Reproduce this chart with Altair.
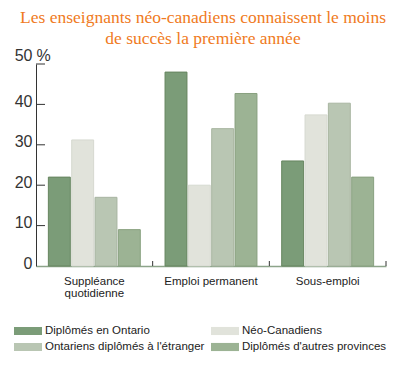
import altair as alt
import pandas as pd

categories = ["Suppléance|quotidienne", "Emploi permanent", "Sous-emploi"]
series = [
    "Diplômés en Ontario",
    "Néo-Canadiens",
    "Ontariens diplômés à l'étranger",
    "Diplômés d'autres provinces",
]
v_ontario = [22, 48, 26]
v_neo = [31.2, 20, 37.4]
v_etranger = [17, 34, 40.3]
v_autres = [9, 42.7, 22]
y_ticks = [10, 20, 30, 40, 50]

fills = ["#7b9c78", "#e1e3db", "#b9c6b3", "#9cb394"]
strokes = ["#66855f", "#d6d9d0", "#a8b5a1", "#88a07f"]

rows = []
for s, vals in zip(series, [v_ontario, v_neo, v_etranger, v_autres]):
    for c, v in zip(categories, vals):
        rows.append({"cat": c, "serie": s, "val": v})
df = pd.DataFrame(rows)

x_enc = alt.X(
    "cat:N",
    sort=categories,
    scale=alt.Scale(domain=categories, paddingInner=0, paddingOuter=0),
    axis=alt.Axis(
        title=None,
        labelAngle=0,
        labelExpr="split(datum.label, '|')",
        labelFont="Liberation Sans",
        labelFontSize=11.5,
        labelColor="#222",
        labelPadding=9,
        labelBaseline="top",
        labelLineHeight=12.5,
        ticks=False,
        domainColor="#8da48a",
        domainWidth=1.5,
    ),
)

y_axis = alt.Axis(
    values=[0] + y_ticks,
    title="%",
    titleAngle=0,
    titleX=7,
    titleY=-8.5,
    titleAlign="center",
    titleBaseline="middle",
    titleFont="Liberation Sans",
    titleFontSize=16,
    titleFontWeight="normal",
    titleColor="#333",
    labelFont="Liberation Sans",
    labelFontSize=16,
    labelColor="#333",
    labelPadding=4,
    labelOffset={"condition": {"test": "datum.value == 50", "value": -8.5}, "value": -3},
    ticks=False,
    grid=False,
    domainColor="#333",
    domainWidth=1,
)
y_scale = alt.Scale(domain=[0, 50], nice=False)

bars = alt.Chart(df).mark_bar(strokeWidth=1).encode(
    x=x_enc,
    xOffset=alt.XOffset(
        "serie:N", sort=series, scale=alt.Scale(paddingInner=0.06, paddingOuter=0.53)
    ),
    y=alt.Y("val:Q", scale=y_scale, axis=y_axis),
    fill=alt.Fill(
        "serie:N",
        sort=series,
        scale=alt.Scale(domain=series, range=fills),
        legend=alt.Legend(
            title=None,
            orient="none",
            direction="horizontal",
            legendX=-22,
            legendY=260,
            columns=2,
            symbolType="M-1,-0.29H1V0.29H-1Z",
            symbolSize=784,
            symbolStrokeWidth=0,
            symbolOpacity=1,
            clipHeight=14,
            rowPadding=2,
            columnPadding=6,
            labelFont="Liberation Sans",
            labelFontSize=11.5,
            labelColor="#222",
            labelOffset=3,
        ),
    ),
    stroke=alt.Stroke(
        "serie:N", sort=series, scale=alt.Scale(domain=series, range=strokes), legend=None
    ),
)

tick_df = pd.DataFrame({"val": y_ticks})
yt = alt.Chart(tick_df).mark_rule(color="#333", strokeWidth=1).encode(
    y=alt.Y("val:Q", scale=y_scale, axis=y_axis), x=alt.value(0), x2=alt.value(9)
)

cat_df = pd.DataFrame({"cat": categories})
xt = alt.Chart(cat_df).mark_rule(color="#333", strokeWidth=1).encode(
    x=alt.X("cat:N", sort=categories, bandPosition=1),
    y=alt.value(202),
    y2=alt.value(197),
)

chart = (
    alt.layer(bars, yt, xt)
    .properties(
        width=350,
        height=202,
        autosize=alt.AutoSizeParams(type="none"),
        padding={"left": 28, "top": 56, "right": 6, "bottom": 92},
        title=alt.TitleParams(
            text=[
                "Les enseignants néo-canadiens connaissent le moins",
                "de succès la première année",
            ],
            font="Liberation Serif",
            fontSize=17.5,
            fontWeight="normal",
            color="#f07a22",
            lineHeight=21,
            anchor="middle",
            dx=-8,
            dy=4,
        ),
    )
    .configure_view(strokeWidth=0)
)

chart.save("out.html", embed_options={"renderer": "svg", "actions": False})
